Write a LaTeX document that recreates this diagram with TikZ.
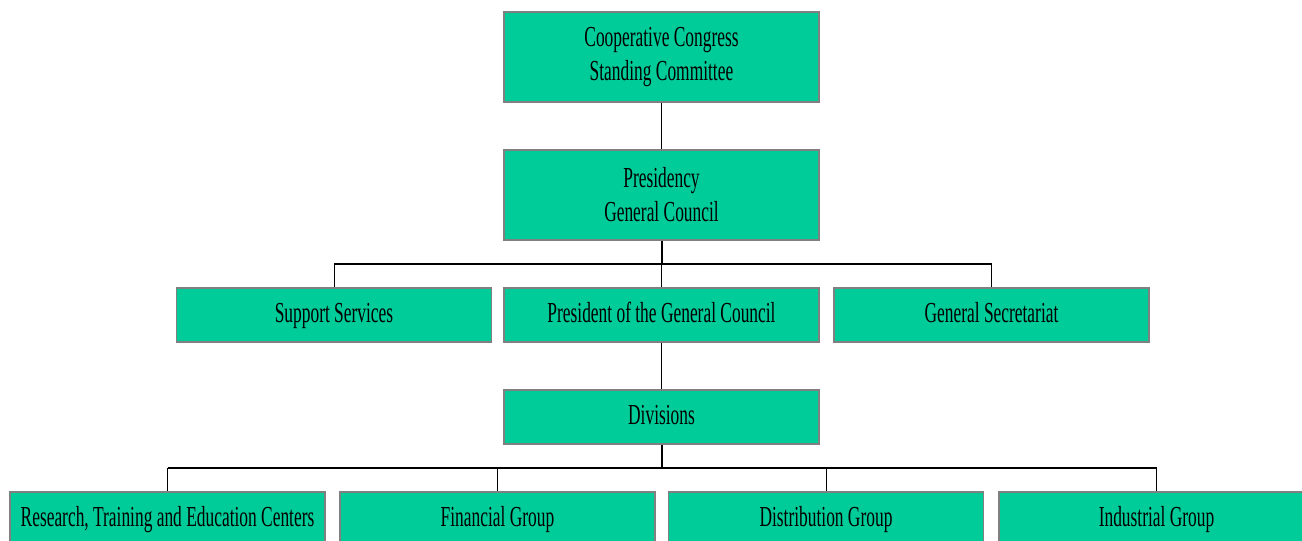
\documentclass[tikz,border=0pt]{standalone}
\usepackage{fontspec}
\setmainfont{Liberation Serif}[FakeStretch=0.6]
\definecolor{boxfill}{RGB}{0,204,153}
\definecolor{boxline}{RGB}{128,128,128}
\begin{document}
\begin{tikzpicture}[x=1pt,y=-1pt,
  basebox/.style={draw=boxline, fill=boxfill, line width=1.5pt, minimum width=315pt,
    inner sep=0pt, align=center, font=\fontsize{29}{34}\selectfont},
  orgbox/.style={basebox, minimum height=54pt, text height=20pt, text depth=5pt},
  tallbox/.style={basebox, minimum height=90pt},
  thinline/.style={line width=1pt, black},
  busline/.style={line width=2pt, black}]
\useasboundingbox (0,0) rectangle (1302,541);
% nodes
\node[tallbox] (top)  at (661.5,57)  {Cooperative Congress\\Standing Committee};
\node[tallbox] (pres) at (661.5,195) {Presidency\\General Council};
\node[orgbox] (sup)  at (334,315)    {Support Services};
\node[orgbox] (pgc)  at (661.5,315)  {President of the General Council};
\node[orgbox] (gs)   at (991.5,315)  {General Secretariat};
\node[orgbox] (div)  at (661.5,417)  {Divisions};
\node[orgbox] (res)  at (167.5,519)  {Research, Training and Education Centers};
\node[orgbox] (fin)  at (497.5,519)  {Financial Group};
\node[orgbox] (dist) at (826,519)    {Distribution Group};
\node[orgbox] (ind)  at (1156.5,519) {Industrial Group};
% bus coordinates
\coordinate (busA) at (661.5,264);
\coordinate (busB) at (661.5,467.5);
% connectors
\draw[thinline] (top.south) -- (pres.north);
\draw[busline] (pres.south) -- (busA);
\draw[busline] (sup.north |- busA) -- (gs.north |- busA);
\draw[thinline] (sup.north |- busA) -- (sup.north);
\draw[thinline] (pgc.north |- busA) -- (pgc.north);
\draw[thinline] (gs.north |- busA) -- (gs.north);
\draw[thinline] (pgc.south) -- (div.north);
\draw[busline] (div.south) -- (busB);
\draw[busline] (res.north |- busB) -- (ind.north |- busB);
\draw[thinline] (res.north |- busB) -- (res.north);
\draw[thinline] (fin.north |- busB) -- (fin.north);
\draw[thinline] (dist.north |- busB) -- (dist.north);
\draw[thinline] (ind.north |- busB) -- (ind.north);
\end{tikzpicture}
\end{document}
